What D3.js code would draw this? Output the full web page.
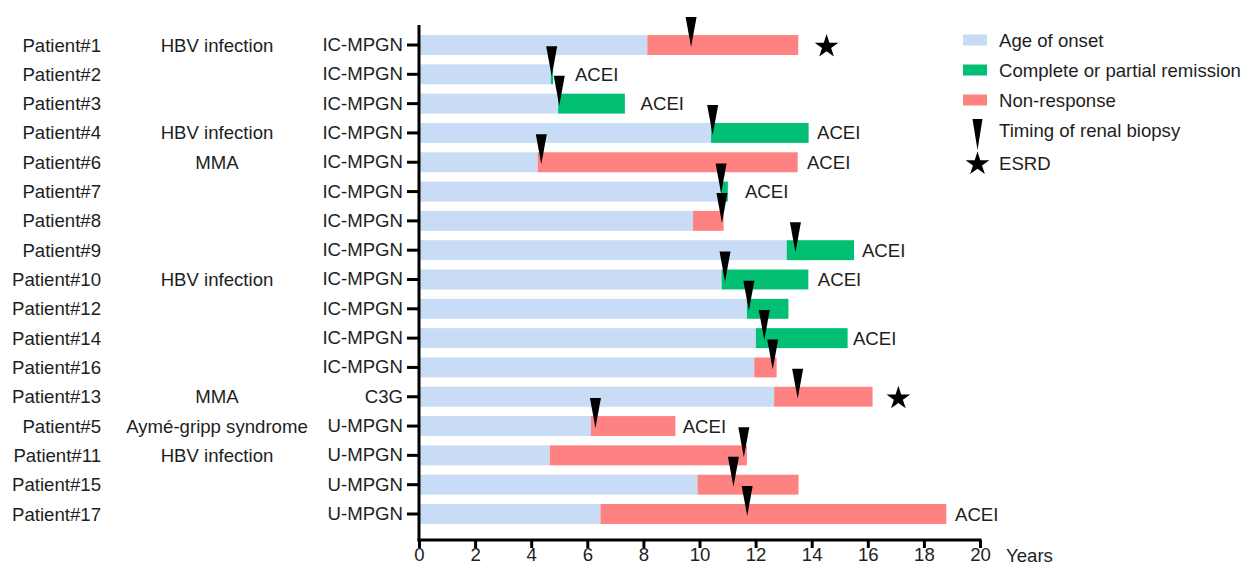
<!DOCTYPE html>
<html>
<head>
<meta charset="utf-8">
<script src="https://cdn.jsdelivr.net/npm/d3@7/dist/d3.min.js"></script>
<style>
  html, body { margin: 0; padding: 0; background: #fff; }
  svg { display: block; font-family: "Liberation Sans", Arial, Helvetica, sans-serif; }
  text { fill: #1e1e1e; font-size: 18.6px; }
</style>
</head>
<body>
<svg id="chart" width="1245" height="565"></svg>
<script>
// ---------------- data ----------------
const patients = ["Patient#1","Patient#2","Patient#3","Patient#4","Patient#6","Patient#7","Patient#8","Patient#9","Patient#10","Patient#12","Patient#14","Patient#16","Patient#13","Patient#5","Patient#11","Patient#15","Patient#17"];
const causes = ["HBV infection","","","HBV infection","MMA","","","","HBV infection","","","","MMA","Aymé-gripp syndrome","HBV infection","",""];
const pathology = ["IC-MPGN","IC-MPGN","IC-MPGN","IC-MPGN","IC-MPGN","IC-MPGN","IC-MPGN","IC-MPGN","IC-MPGN","IC-MPGN","IC-MPGN","IC-MPGN","C3G","U-MPGN","U-MPGN","U-MPGN","U-MPGN"];
// age of onset (years)
const onsetAge = [8.14,4.70,4.96,10.41,4.23,10.76,9.77,13.11,10.79,11.69,12.01,11.95,12.66,6.13,4.66,9.93,6.47];
// end of follow-up (years)
const followUpEnd = [13.52,4.78,7.34,13.89,13.50,11.01,10.86,15.51,13.88,13.17,15.28,12.75,16.17,9.14,11.69,13.53,18.80];
// outcome after onset: "remission" or "non"
const outcome = ["non","remission","remission","remission","non","remission","non","remission","remission","remission","remission","non","non","non","non","non","non"];
// age at renal biopsy (years)
const biopsyAge = [9.70,4.73,5.00,10.47,4.36,10.77,10.80,13.42,10.91,11.76,12.31,12.61,13.50,6.29,11.58,11.21,11.70];
// ACEI annotation (years at which label sits), null = none
const aceiAt = [null,5.56,7.90,14.19,13.83,11.62,null,15.79,14.22,null,15.47,null,null,9.40,null,null,19.11];
// ESRD (years at which the star sits), null = none
const esrdAt = [14.53,null,null,null,null,null,null,null,null,null,null,null,17.09,null,null,null,null];
const xTicks = [0,2,4,6,8,10,12,14,16,18,20];
const legendLabels = ["Age of onset","Complete or partial remission","Non-response","Timing of renal biopsy","ESRD"];

// ---------------- styles ----------------
const colors = { onset: "#c8dcf6", remission: "#02bf74", non: "#ff8282" };
const FS = 18.6;

const svg = d3.select("#chart");
const x = d3.scaleLinear().domain([0, 20]).range([419, 980]);
const y = d3.scaleBand().domain(patients).range([30.35, 528.65]).paddingInner(0.32).paddingOuter(0.16);
const bw = y.bandwidth();
const cy = p => y(p) + bw / 2;

const rows = patients.map((p, i) => ({
  p, cause: causes[i], path: pathology[i], onset: onsetAge[i], end: followUpEnd[i],
  outcome: outcome[i], biopsy: biopsyAge[i], acei: aceiAt[i], esrd: esrdAt[i]
}));

// bars: onset
svg.append("g").selectAll("rect").data(rows).join("rect")
  .attr("x", x(0)).attr("y", d => y(d.p))
  .attr("width", d => x(d.onset) - x(0)).attr("height", bw)
  .attr("fill", colors.onset);
// bars: outcome
svg.append("g").selectAll("rect").data(rows).join("rect")
  .attr("x", d => x(d.onset)).attr("y", d => y(d.p))
  .attr("width", d => x(d.end) - x(d.onset)).attr("height", bw)
  .attr("fill", d => colors[d.outcome]);

// biopsy markers
const marker = (cx, top, tip, w) => `M${cx - w/2},${top}L${cx + w/2},${top}L${cx},${tip}Z`;
svg.append("g").selectAll("path").data(rows).join("path")
  .attr("d", d => marker(x(d.biopsy), cy(d.p) - 28, cy(d.p) + 2, 11))
  .attr("fill", "#000");

// ACEI labels
svg.append("g").selectAll("text").data(rows.filter(d => d.acei != null)).join("text")
  .attr("x", d => x(d.acei)).attr("y", d => cy(d.p))
  .attr("dy", "0.35em").text("ACEI");

// ESRD stars
const star = d3.symbol().type(d3.symbolStar).size(175);
svg.append("g").selectAll("path").data(rows.filter(d => d.esrd != null)).join("path")
  .attr("transform", d => `translate(${x(d.esrd)},${cy(d.p) + 1.5})`)
  .attr("d", star()).attr("fill", "#000");

// patient names (right aligned)
svg.append("g").selectAll("text").data(rows).join("text")
  .attr("x", 101).attr("y", d => cy(d.p)).attr("dy", "0.35em")
  .attr("text-anchor", "end").text(d => d.p);
// causes (centered)
svg.append("g").selectAll("text").data(rows.filter(d => d.cause)).join("text")
  .attr("x", 217).attr("y", d => cy(d.p)).attr("dy", "0.35em")
  .attr("text-anchor", "middle").text(d => d.cause);

// y axis (pathology labels)
const yAxis = d3.axisLeft(y).tickSize(12).tickPadding(4).tickFormat((p, i) => pathology[i]);
const gy = svg.append("g").attr("transform", `translate(${x(0)},0)`).call(yAxis);
gy.select(".domain").remove();
gy.selectAll(".tick line").attr("stroke", "#000").attr("stroke-width", 3);
gy.selectAll(".tick text").attr("font-size", FS).attr("fill", "#1e1e1e")
  .attr("font-family", "Liberation Sans, Arial, sans-serif");
svg.append("line").attr("x1", x(0)).attr("x2", x(0)).attr("y1", 25).attr("y2", 541.5)
  .attr("stroke", "#000").attr("stroke-width", 3);

// x axis
const xAxis = d3.axisBottom(x).tickValues(xTicks).tickSize(8).tickPadding(0).tickFormat(d3.format("d"));
const gx = svg.append("g").attr("transform", "translate(0,540)").call(xAxis);
gx.select(".domain").remove();
gx.selectAll(".tick line").attr("stroke", "#000").attr("stroke-width", 3);
gx.selectAll(".tick text").attr("font-size", 18).attr("fill", "#1e1e1e")
  .attr("font-family", "Liberation Sans, Arial, sans-serif").attr("dy", "0.68em");
svg.append("line").attr("x1", x(0) - 1.5).attr("x2", x(20) + 1.5).attr("y1", 540).attr("y2", 540)
  .attr("stroke", "#000").attr("stroke-width", 3);
svg.append("text").attr("x", 1006).attr("y", 555).attr("dy", "0.35em").attr("font-size", 18).text("Years");

// legend
const lg = svg.append("g");
const lgY = [40, 70, 100, 130, 163];
const swatchColors = [colors.onset, colors.remission, colors.non];
swatchColors.forEach((c, i) => {
  lg.append("rect").attr("x", 963).attr("y", lgY[i] - 5.5).attr("width", 24).attr("height", 11).attr("fill", c);
});
lg.append("path").attr("d", marker(977.5, 119, 150, 10)).attr("fill", "#000");
lg.append("path").attr("transform", `translate(977.5,164)`).attr("d", star()).attr("fill", "#000");
legendLabels.forEach((t, i) => {
  lg.append("text").attr("x", 999).attr("y", lgY[i]).attr("dy", "0.35em").text(t);
});
</script>
</body>
</html>
